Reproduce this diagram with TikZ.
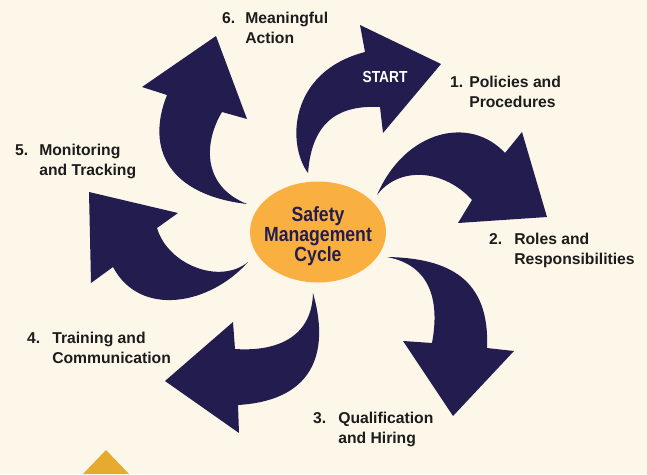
\documentclass[tikz,border=0pt]{standalone}
\usepackage{fontspec}
\setmainfont{Liberation Sans}
\newfontfamily\narrowfont{Liberation Sans}[FakeStretch=0.86]
\usetikzlibrary{shapes.geometric}
\definecolor{cream}{RGB}{253,247,234}
\definecolor{navy}{RGB}{35,29,79}
\definecolor{amber}{RGB}{250,176,64}
\definecolor{gold}{RGB}{232,170,46}
\definecolor{ink}{RGB}{28,28,28}
\newcommand{\steplabel}[4]{\begin{tabular}[t]{@{}l@{\hspace{#2}}l@{}}#1&#3\\&#4\end{tabular}}
\begin{document}
\begin{tikzpicture}[x=1pt, y=-1pt,
    swirl/.style={fill=navy},
    steptext/.style={anchor=base west, inner sep=0pt, text=ink, font=\fontsize{15.7}{19.5}\selectfont\bfseries},
    hub/.style={ellipse, fill=amber, minimum width=136pt, minimum height=101pt, inner sep=0pt},
    hubtext/.style={align=center, inner sep=0pt, text=navy, font=\narrowfont\fontsize{20.5}{20}\selectfont\bfseries}]
        \fill[cream] (0,0) rectangle (647,474) ;
        \useasboundingbox (0,0) rectangle (647,474) ;
        \fill[swirl] (308,173) .. controls (287,145) and (288,72) .. (365,52) -- (360,25) -- (441,64) -- (383,133) -- (380,107) .. controls (340,105) and (312,120) .. (308,173) -- cycle ;
        \fill[swirl] (377,195) .. controls (405,130) and (470,115) .. (505,153) -- (522,132) -- (547,217) -- (458,223) -- (472,200) .. controls (445,170) and (400,165) .. (377,195) -- cycle ;
        \fill[swirl] (387,257) .. controls (450,258) and (490,280) .. (487,348) -- (514,351) -- (453,416) -- (403,341) -- (432,343) .. controls (440,300) and (430,265) .. (387,257) -- cycle ;
        \fill[swirl] (313,293) .. controls (328,345) and (320,400) .. (238,405) -- (239,433) -- (165,381) -- (233,322) -- (235,349) .. controls (280,352) and (312,335) .. (313,293) -- cycle ;
        \fill[swirl] (248,262) .. controls (210,305) and (140,318) .. (113,267) -- (91,283) -- (89,192) -- (178,213) -- (157,228) .. controls (168,265) and (220,285) .. (248,262) -- cycle ;
        \fill[swirl] (247,204) .. controls (170,195) and (145,150) .. (167,95) -- (142,87) -- (216,36) -- (247,119) -- (222,112) .. controls (205,140) and (200,185) .. (247,204) -- cycle ;
        \node[hub] (hub) at (318,232) {} ;
        \node[hubtext] (hubtext) at (318,236) {Safety\\Management\\Cycle} ;
        \node[text=white, inner sep=0pt, font=\narrowfont\fontsize{16}{16}\selectfont\bfseries] (start) at (385,77) {START} ;
        \node[steptext] (policies) at (450,87.5) {\steplabel{1.}{6pt}{Policies and}{Procedures}} ;
        \node[steptext] (roles) at (489,244.5) {\steplabel{2.}{12pt}{Roles and}{Responsibilities}} ;
        \node[steptext] (hiring) at (313,423.5) {\steplabel{3.}{12pt}{Qualification}{and Hiring}} ;
        \node[steptext] (training) at (27,343.5) {\steplabel{4.}{12pt}{Training and}{Communication}} ;
        \node[steptext] (tracking) at (15,155.5) {\steplabel{5.}{11pt}{Monitoring}{and Tracking}} ;
        \node[steptext] (action) at (222,23.5) {\steplabel{6.}{10pt}{Meaningful}{Action}} ;
        \fill[gold] (83,474) -- (106,450) -- (129,474) -- cycle ;
\end{tikzpicture}
\end{document}
